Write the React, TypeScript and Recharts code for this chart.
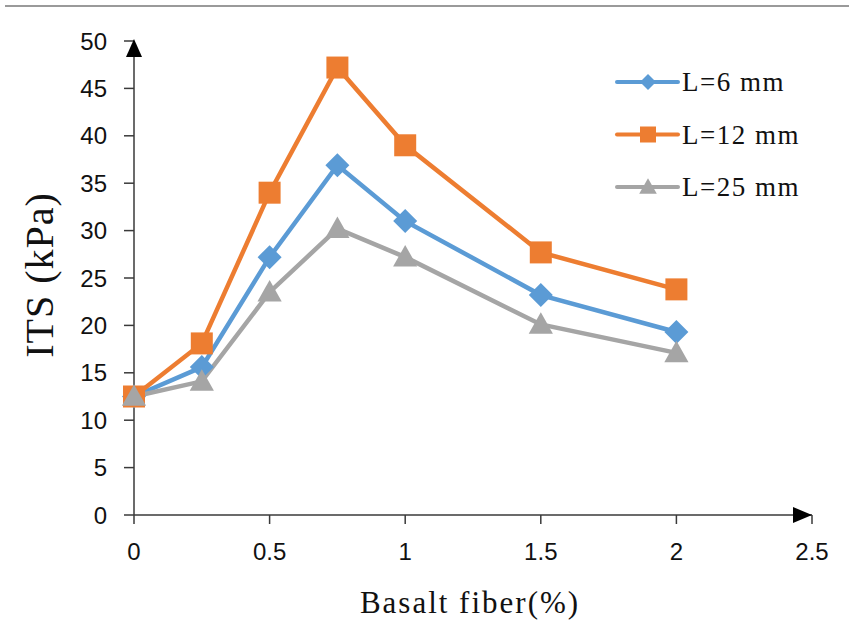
import React from 'react';
import { LineChart, Line, XAxis, YAxis, ReferenceDot } from 'recharts';

const fiber = [0, 0.25, 0.5, 0.75, 1, 1.5, 2];
const l6 = [12.5, 15.6, 27.2, 36.9, 31.0, 23.2, 19.3];
const l12 = [12.5, 18.1, 34.0, 47.2, 39.0, 27.7, 23.8];
const l25 = [12.5, 14.1, 23.5, 30.2, 27.2, 20.1, 17.1];
const seriesNames = ['L=6 mm', 'L=12 mm', 'L=25 mm'];
const xTicks = [0, 0.5, 1, 1.5, 2, 2.5];
const yTicks = [0, 5, 10, 15, 20, 25, 30, 35, 40, 45, 50];
const xTitle = 'Basalt fiber(%)';
const yTitle = 'ITS (kPa)';

const data = fiber.map((f, i) => ({ fiber: f, l6: l6[i], l12: l12[i], l25: l25[i] }));

const BLUE = '#5B9BD5';
const ORANGE = '#ED7D31';
const GRAY = '#A5A5A5';
const AXIS = '#3a3a3a';
const SERIF = '"Liberation Serif", "Times New Roman", serif';
const SANS = '"Liberation Sans", Arial, sans-serif';

const diamondPath = (cx: number, cy: number, r: number) =>
  `M${cx},${cy - r}L${cx + r},${cy}L${cx},${cy + r}L${cx - r},${cy}Z`;
const squarePath = (cx: number, cy: number, r: number) =>
  `M${cx - r},${cy - r}L${cx + r},${cy - r}L${cx + r},${cy + r}L${cx - r},${cy + r}Z`;
const trianglePath = (cx: number, cy: number, r: number) =>
  `M${cx},${cy - r * 1.1}L${cx + r * 1.1},${cy + r * 0.85}L${cx - r * 1.1},${cy + r * 0.85}Z`;

const shapes = [diamondPath, squarePath, trianglePath];
const colors = [BLUE, ORANGE, GRAY];
const sizes = [12, 11, 11];

const makeDot = (k: number) => (p: any) => {
  if (p.cx == null || p.cy == null) return <g key={`e${k}-${p.index}`} />;
  return <path key={`d${k}-${p.index}`} d={shapes[k](p.cx, p.cy, sizes[k])} fill={colors[k]} />;
};

const LegendBox = () => (
  <svg width={240} height={170} style={{ position: 'absolute', left: 600, top: 55, overflow: 'visible' }}>
    {seriesNames.map((name, k) => {
      const y = 27 + k * 52.5;
      return (
        <g key={name}>
          <line x1={17} x2={78} y1={y} y2={y} stroke={colors[k]} strokeWidth={4} strokeLinecap="round" />
          <path d={shapes[k](48, y, 8)} fill={colors[k]} />
          <text x={82} y={y + 9} fontFamily={SERIF} fontSize={27} letterSpacing={1.5} fill="#111">
            {name}
          </text>
        </g>
      );
    })}
  </svg>
);

const YTitle = (props: any) => {
  const vb = props.viewBox || {};
  const cy = (vb.y ?? 41) + (vb.height ?? 474) / 2 - 3;
  const x = 53;
  return (
    <text x={x} y={cy} transform={`rotate(-90 ${x} ${cy})`} textAnchor="middle" fontFamily={SERIF} fontSize={40} letterSpacing={1} fill="#111">
      {yTitle}
    </text>
  );
};

const XTitle = (props: any) => {
  const vb = props.viewBox || {};
  const cx = (vb.x ?? 134) + (vb.width ?? 678) / 2 - 3;
  return (
    <text x={cx} y={613} textAnchor="middle" fontFamily={SERIF} fontSize={31} letterSpacing={2} fill="#111">
      {xTitle}
    </text>
  );
};

export default function App() {
  return (
    <div style={{ position: 'absolute', left: 0, top: 0, width: 849, height: 630, background: '#fff' }}>
      <div style={{ position: 'absolute', left: 5, top: 5, width: 844, height: 2, background: '#9a9a9a' }} />
      <LineChart width={849} height={630} data={data} margin={{ top: 41, right: 37, left: 0, bottom: 0 }}>
        <XAxis
          dataKey="fiber"
          type="number"
          domain={[0, 2.5]}
          ticks={xTicks}
          interval={0}
          height={115}
          tickSize={9}
          tickMargin={19}
          stroke={AXIS}
          tick={{ fill: '#111', fontFamily: SANS, fontSize: 24 }}
          axisLine={{ stroke: AXIS, strokeWidth: 1.5 }}
          tickLine={{ stroke: AXIS, strokeWidth: 1.5 }}
          label={<XTitle />}
        />
        <YAxis
          type="number"
          domain={[0, 50]}
          ticks={yTicks}
          interval={0}
          width={134}
          tickSize={10}
          tickMargin={17}
          stroke={AXIS}
          tick={{ fill: '#111', fontFamily: SANS, fontSize: 24 }}
          axisLine={{ stroke: AXIS, strokeWidth: 1.5 }}
          tickLine={{ stroke: AXIS, strokeWidth: 1.5 }}
          label={<YTitle />}
        />
        <Line dataKey="l6" name={seriesNames[0]} stroke={BLUE} strokeWidth={4.5} dot={makeDot(0)} activeDot={false} isAnimationActive={false} />
        <Line dataKey="l12" name={seriesNames[1]} stroke={ORANGE} strokeWidth={4.5} dot={makeDot(1)} activeDot={false} isAnimationActive={false} />
        <Line dataKey="l25" name={seriesNames[2]} stroke={GRAY} strokeWidth={4.5} dot={makeDot(2)} activeDot={false} isAnimationActive={false} />
        <ReferenceDot
          x={0}
          y={50}
          r={0}
          ifOverflow="visible"
          shape={(p: any) => (
            <path d={`M${p.cx},${p.cy - 2}L${p.cx + 8},${p.cy + 16}L${p.cx - 8},${p.cy + 16}Z`} fill="#000" />
          )}
        />
        <ReferenceDot
          x={2.5}
          y={0}
          r={0}
          ifOverflow="visible"
          shape={(p: any) => (
            <path d={`M${p.cx},${p.cy}L${p.cx - 19},${p.cy - 8}L${p.cx - 19},${p.cy + 8}Z`} fill="#000" />
          )}
        />
      </LineChart>
      <LegendBox />
    </div>
  );
}
